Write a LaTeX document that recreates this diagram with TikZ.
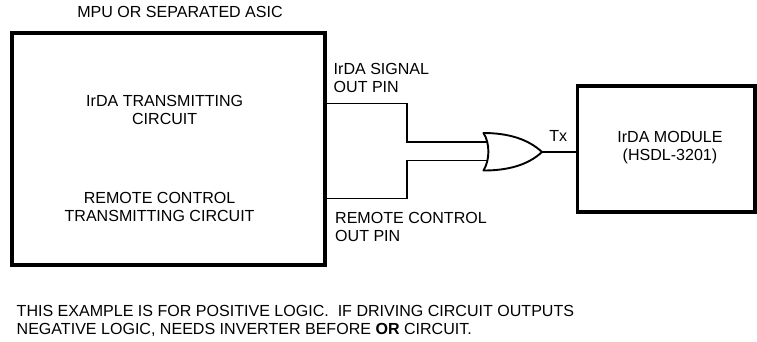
\documentclass[tikz,border=0pt]{standalone}
\usepackage{fontspec}
\setmainfont{Liberation Sans}
\tikzset{
  x=1pt,y=-1pt,
  blockbox/.style={draw=black,line width=3.6pt,fill=none,inner sep=0pt,outer sep=0pt,anchor=north west},
  wire/.style={draw=black,line width=1.3pt,line join=miter},
  gateline/.style={draw=black,line width=1.9pt,line join=round,fill=white},
  lbl/.style={inner sep=0pt,align=center,font=\fontsize{16.05}{18}\selectfont,text=black},
  lbll/.style={inner sep=0pt,align=left,font=\fontsize{16.05}{18}\selectfont,text=black,anchor=west},
}
\begin{document}
\begin{tikzpicture}
\useasboundingbox (0,0) rectangle (757,341);
\node[blockbox,minimum width=313pt,minimum height=232pt] (mpu) at (12.2,33) {};
\node[blockbox,minimum width=177.5pt,minimum height=126pt] (mod) at (577.5,86) {};
\node[lbl] (title) at (180,12) {MPU OR SEPARATED ASIC};
\node[lbl] (irtx) at (164.7,109.5) {IrDA TRANSMITTING\\CIRCUIT};
\node[lbl] (rctx) at (159.6,207) {REMOTE CONTROL\\TRANSMITTING CIRCUIT};
\node[lbl] (modt) at (670,147.5) {IrDA MODULE\\(HSDL-3201)};
\node[lbll] (irpin) at (333.5,77.5) {IrDA SIGNAL\\OUT PIN};
\node[lbll] (rcpin) at (335,226.5) {REMOTE CONTROL\\OUT PIN};
\node[lbl] (tx) at (558.3,135.5) {Tx};
\node[lbll] (note) at (16.5,321) {THIS EXAMPLE IS FOR POSITIVE LOGIC.\ \ IF DRIVING CIRCUIT OUTPUTS\\NEGATIVE LOGIC, NEEDS INVERTER BEFORE \textbf{OR} CIRCUIT.};
\coordinate (a) at (mpu.east |- 0,103.5);
\coordinate (b) at (mpu.east |- 0,198.7);
\coordinate (ga) at (487,142);
\coordinate (gb) at (487,160.5);
\coordinate (gout) at (542,152);
\coordinate (ka) at (407,103.5);
\coordinate (kb) at (407,198.7);
\draw[wire] (a) -- (ka) |- (ga);
\draw[wire] (b) -- (kb) |- (gb);
\draw[wire] (gout) -- (mod.west |- gout);
\draw[gateline] (483.5,133) .. controls (508,133) and (528,139) .. (gout)
  .. controls (528,165) and (508,170.5) .. (483.5,170.5)
  .. controls (490,160) and (490,143) .. (483.5,133) -- cycle;
\end{tikzpicture}
\end{document}
